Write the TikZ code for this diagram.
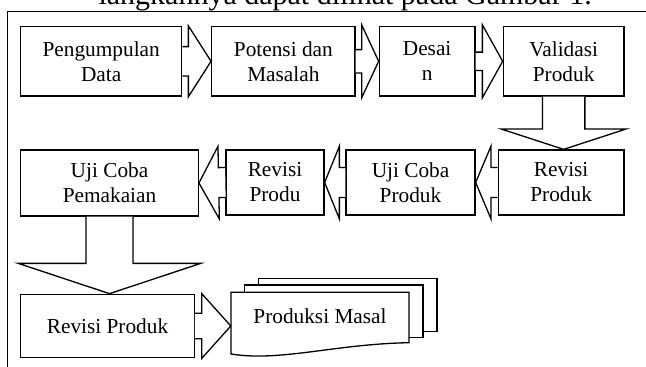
\documentclass[tikz,border=0pt]{standalone}
\usepackage{fontspec}
\setmainfont{Liberation Serif}
\usetikzlibrary{calc}

% block arrow from #1 to tip #2: neck length, shaft half width, head half width
\newcommand\blockarrow[5]{%
  \coordinate (neck) at ($(#1)!#3!(#2)$);
  \filldraw[arrowbody] ($(#1)!#4!90:(#2)$) -- ($(neck)!#4!-90:(#1)$)
    -- ($(neck)!#5!-90:(#1)$) -- (#2) -- ($(neck)!#5!90:(#1)$)
    -- ($(neck)!#4!90:(#1)$) -- ($(#1)!#4!-90:(#2)$);
}

\begin{document}
\begin{tikzpicture}[x=1pt, y=1pt, yscale=-1,
    box/.style={draw, line width=1.3pt, fill=white, inner sep=0pt, align=center,
      font=\fontsize{21.3}{25}\selectfont},
    arrowbody/.style={draw, fill=white, line width=1.3pt, line join=miter},
    docline/.style={line width=1.3pt}]
  \useasboundingbox (0,0) rectangle (646,367);
  \clip (0,0) rectangle (646,367);
  \node [anchor=base west, font=\fontsize{30}{36}\selectfont] (title) at (95,4)
    {langkahnya dapat dilihat pada Gambar 1.};
  \draw [line width=1pt] (7.5,367) -- (7.5,11.7) -- (646,11.7);

  % first row
  \node [box, minimum width=161pt, minimum height=69.3pt] (b1) at (101.2,61.3) {Pengumpulan\\Data};
  \node [box, minimum width=143.3pt, minimum height=69.3pt] (b2) at (283.35,61.3) {Potensi dan\\Masalah};
  \node [box, minimum width=95.7pt, minimum height=69.3pt] (b3) at (427.15,61.3) {Desai\\n};
  \node [box, minimum width=120.7pt, minimum height=69.3pt] (b4) at (563.65,61.3) {Validasi\\Produk};

  % second row
  \node [box, minimum width=125.7pt, minimum height=65pt] (b5) at (561.15,182.5) {Revisi\\Produk};
  \node [box, minimum width=129pt, minimum height=65pt] (b6) at (410.5,182.5) {Uji Coba\\Produk};
  \node [box, minimum width=98pt, minimum height=65pt] (b7) at (275,182.5) {Revisi\\Produ};
  \node [box, minimum width=177.6pt, minimum height=66pt] (b8) at (109.5,183) {Uji Coba\\Pemakaian};

  % third row
  \node [box, minimum width=173.6pt, minimum height=63.4pt] (b9) at (107.5,326) {Revisi Produk};
  \draw [docline] (258.3,285) -- (258.3,278.3) -- (437,278.3) -- (437,331.5) -- (423,331.5);
  \draw [docline] (244.3,292.3) -- (244.3,285) -- (423,285) -- (423,337.5) -- (409,337.5);
  \draw [docline, fill=white] (231,292.3) -- (409,292.3) -- (409,342.7)
    .. controls (335,344) and (280,362) .. (231,354) -- cycle;
  \node [inner sep=0pt, minimum width=178pt, minimum height=52pt,
    font=\fontsize{21.3}{25}\selectfont] (b10) at (320,316) {Produksi Masal};

  \coordinate (d1tip) at (b4.south |- b5.north);
  \coordinate (d2tip) at (b8.south |- b9.north);
  \coordinate (r4tip) at (b9.east -| b10.west);

  \blockarrow{b1.east}{b2.west}{6pt}{14.7pt}{35.5pt}
  \blockarrow{b2.east}{b3.west}{6pt}{11.7pt}{36.5pt}
  \blockarrow{b3.east}{b4.west}{6.7pt}{9.2pt}{36.5pt}
  \blockarrow{b4.south}{d1tip}{32.3pt}{21.2pt}{62.8pt}
  \blockarrow{b5.west}{b6.east}{6.7pt}{15pt}{36.3pt}
  \blockarrow{b6.west}{b7.east}{6pt}{15pt}{36.3pt}
  \blockarrow{b7.west}{b8.east}{6.7pt}{15pt}{36.3pt}
  \blockarrow{b8.south}{d2tip}{46.7pt}{23.5pt}{91.3pt}
  \blockarrow{b9.east}{r4tip}{6.7pt}{12.8pt}{32.5pt}
\end{tikzpicture}
\end{document}
